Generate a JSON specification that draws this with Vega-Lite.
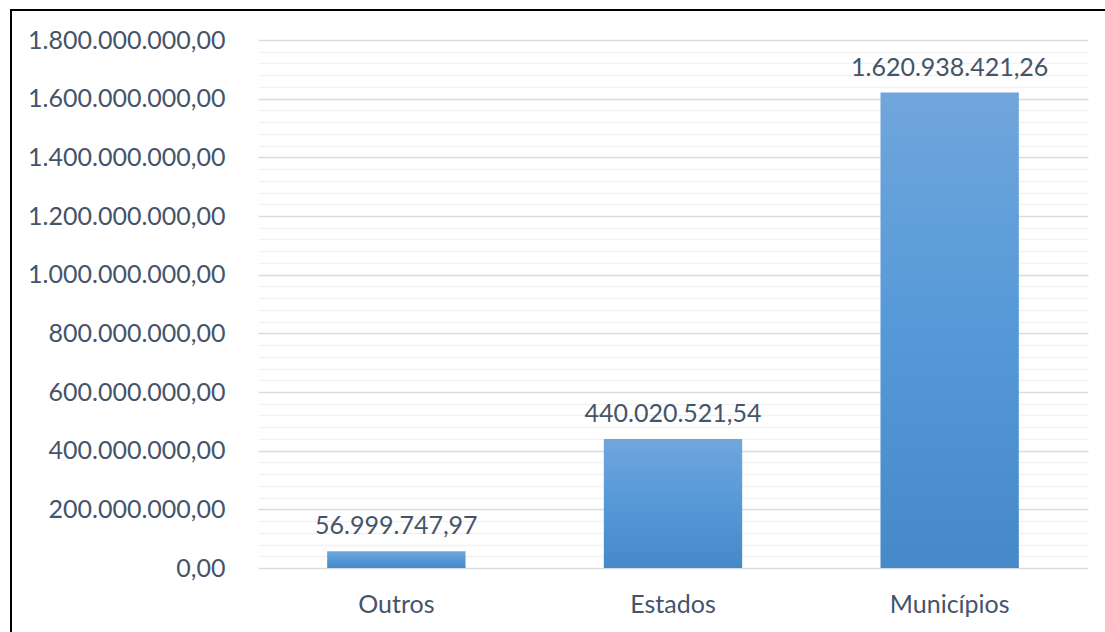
{
  "$schema": "https://vega.github.io/schema/vega-lite/v6.json",
  "autosize": "none",
  "width": 1100,
  "height": 640,
  "padding": {"left": 11, "top": 10, "right": 0, "bottom": 0},
  "background": "white",
  "config": {
    "locale": {"number": {"decimal": ",", "thousands": ".", "grouping": [3], "currency": ["R$", ""]}},
    "view": {"stroke": "black", "strokeWidth": 2},
    "font": "Lato"
  },
  "data": {
    "values": [
      {"categoria": "Outros", "valor": 56999747.97},
      {"categoria": "Estados", "valor": 440020521.54},
      {"categoria": "Municípios", "valor": 1620938421.26}
    ]
  },
  "encoding": {
    "x": {
      "field": "categoria",
      "type": "nominal",
      "sort": null,
      "scale": {"range": [247, 1077], "paddingInner": 0.5, "paddingOuter": 0.25},
      "axis": {
        "title": null,
        "labelAngle": 0,
        "labelFont": "Lato",
        "labelFontSize": 25,
        "labelColor": "#44546A",
        "labelPadding": 24,
        "labelLimit": 0,
        "ticks": false,
        "domain": false,
        "grid": false,
        "offset": -82
      }
    },
    "y": {
      "field": "valor",
      "type": "quantitative",
      "scale": {"domain": [0, 1800000000], "range": [558, 30], "nice": false, "zero": true}
    }
  },
  "layer": [
    {
      "mark": {
        "type": "bar",
        "color": {
          "gradient": "linear",
          "x1": 0, "y1": 0, "x2": 0, "y2": 1,
          "stops": [
            {"offset": 0, "color": "#70A6DC"},
            {"offset": 0.5, "color": "#5599D8"},
            {"offset": 1, "color": "#4589C9"}
          ]
        }
      },
      "encoding": {
        "y": {
          "field": "valor",
          "type": "quantitative",
          "axis": {
            "title": null,
            "orient": "left",
            "offset": -214,
            "labels": false,
            "ticks": false,
            "domain": false,
            "grid": true,
            "gridColor": "#F2F2F2",
            "gridWidth": 1.3,
            "values": [40000000, 80000000, 120000000, 160000000, 240000000, 280000000, 320000000, 360000000, 440000000, 480000000, 520000000, 560000000, 640000000, 680000000, 720000000, 760000000, 840000000, 880000000, 920000000, 960000000, 1040000000, 1080000000, 1120000000, 1160000000, 1240000000, 1280000000, 1320000000, 1360000000, 1440000000, 1480000000, 1520000000, 1560000000, 1640000000, 1680000000, 1720000000, 1760000000]
          }
        }
      }
    },
    {
      "mark": {"type": "text", "baseline": "alphabetic", "dy": -17, "fontSize": 25, "font": "Lato", "color": "#44546A"},
      "encoding": {
        "text": {"field": "valor", "type": "quantitative", "format": ",.2f"},
        "y": {
          "field": "valor",
          "type": "quantitative",
          "axis": {
            "title": null,
            "orient": "left",
            "offset": -214,
            "labelPadding": 0,
            "labelLimit": 0,
            "labelFont": "Lato",
            "labelFontSize": 25,
            "labelColor": "#44546A",
            "format": ",.2f",
            "ticks": false,
            "domain": false,
            "grid": true,
            "gridColor": "#D9DDE3",
            "gridWidth": 1.5,
            "values": [0, 200000000, 400000000, 600000000, 800000000, 1000000000, 1200000000, 1400000000, 1600000000, 1800000000]
          }
        }
      }
    }
  ],
  "resolve": {"axis": {"y": "independent"}}
}
